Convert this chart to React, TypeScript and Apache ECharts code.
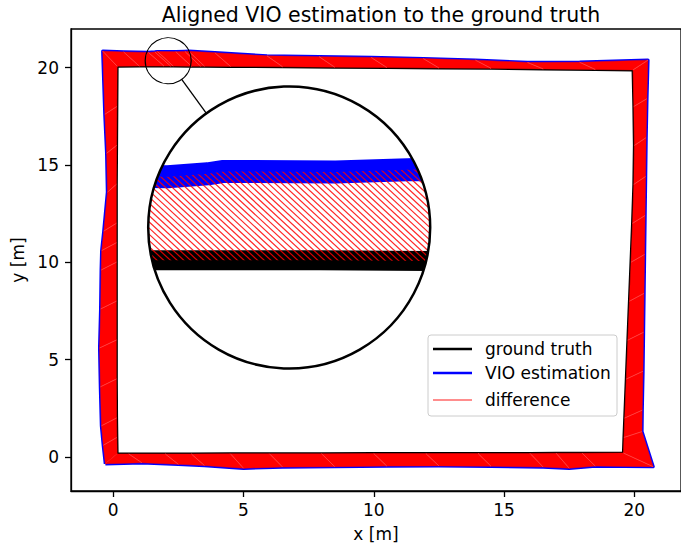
import React, { useEffect, useRef } from "react";
import * as echarts from "echarts";

// Ground-truth trajectory (m), clockwise from the start corner.
const groundTruth: [number, number][] = [
  [0.15, 0.15], [0.14, 1.0], [0.13, 2.0], [0.12, 4.0], [0.12, 6.0], [0.12, 8.0],
  [0.12, 10.0], [0.12, 11.0], [0.12, 12.0], [0.12, 14.0], [0.13, 16.0], [0.14, 18.0],
  [0.15, 20.07],
  [1.0, 20.075], [1.95, 20.075], [2.2, 20.075], [2.3, 20.075], [3.0, 20.07], [3.35, 20.07],
  [3.5, 20.07], [4.5, 20.06], [6.5, 20.04], [8.5, 20.02], [10.5, 20.0], [12.5, 19.98],
  [14.5, 19.96], [16.5, 19.93], [18.5, 19.9], [19.95, 19.88],
  [19.98, 18.0], [20.0, 16.0], [19.98, 14.0], [19.93, 12.0], [19.87, 10.0], [19.81, 8.0],
  [19.75, 6.0], [19.69, 4.0], [19.63, 2.0], [19.6, 1.0], [19.58, 0.2],
  [18.0, 0.19], [17.0, 0.19], [16.0, 0.18], [14.0, 0.18], [12.0, 0.17], [10.0, 0.17],
  [8.0, 0.16], [6.0, 0.16], [4.5, 0.16], [3.0, 0.15], [2.0, 0.15], [0.6, 0.15],
  [0.15, 0.15],
];

// Aligned VIO estimate (m), one sample per ground-truth sample.
const vioEstimate: [number, number][] = [
  [-0.3, -0.35], [-0.38, 0.6], [-0.45, 1.6], [-0.49, 3.6], [-0.52, 5.6], [-0.48, 7.6],
  [-0.46, 9.6], [-0.44, 10.6], [-0.36, 11.6], [-0.22, 13.6], [-0.25, 15.6], [-0.32, 17.6],
  [-0.4, 20.84],
  [0.4, 20.8], [1.35, 20.775], [1.6, 20.8], [1.7, 20.82], [2.4, 20.815], [2.75, 20.83],
  [2.9, 20.835], [3.9, 20.76], [5.9, 20.6], [7.9, 20.56], [9.9, 20.52], [11.9, 20.46],
  [13.9, 20.38], [15.9, 20.26], [17.9, 20.27], [20.52, 20.38],
  [20.48, 18.4], [20.45, 16.4], [20.43, 14.4], [20.41, 12.4], [20.39, 10.4], [20.37, 8.4],
  [20.35, 6.4], [20.33, 4.4], [20.3, 2.4], [20.29, 1.3], [20.72, -0.5],
  [18.5, -0.47], [17.5, -0.58], [16.5, -0.52], [14.5, -0.48], [12.5, -0.46], [10.5, -0.47],
  [8.5, -0.5], [6.5, -0.52], [5.0, -0.58], [3.5, -0.44], [2.5, -0.38], [1.1, -0.3],
  [-0.3, -0.35],
];

const xTicks = [0, 5, 10, 15, 20];
const yTicks = [0, 5, 10, 15, 20];
const lensFocus: [number, number] = [2.11, 20.35];
const legendLabels = ["ground truth", "VIO estimation", "difference"];
const titleText = "Aligned VIO estimation to the ground truth";

const FONT = "DejaVu Sans";
const GRID = { left: 71, top: 29, width: 620, height: 462 };

// magnifier geometry (pixels)
const LENS_SMALL_R = 23;
const LENS_BIG_CENTER: [number, number] = [289.2, 227.5];
const LENS_BIG_R = 141;
const HATCH_SPACING = 6.7;

export default function App() {
  const ref = useRef<HTMLDivElement>(null);

  useEffect(() => {
    const chart = echarts.init(ref.current!, null, { renderer: "svg" });

    const diffRows = groundTruth.slice(0, -1).map((g, i) => {
      const v = vioEstimate[i];
      const g2 = groundTruth[i + 1];
      const v2 = vioEstimate[i + 1];
      return [g[0], g[1], v[0], v[1], g2[0], g2[1], v2[0], v2[1]];
    });

    const axisText = { fontSize: 17, fontFamily: FONT, color: "#000" };

    const legendY = [349, 373, 400];
    const legendColors = ["#000000", "#0000ff", "rgba(255,0,0,0.6)"];
    const legendWidths = [2.5, 2.5, 1.3];

    const graphic: any[] = [
      {
        type: "text",
        z: 100,
        style: {
          text: titleText,
          x: GRID.left + GRID.width / 2,
          y: 14.5,
          align: "center",
          verticalAlign: "middle",
          fontSize: 20.5,
          fontFamily: FONT,
          fill: "#000",
        },
      },
      {
        type: "rect",
        z: 100,
        shape: { x: 428, y: 335, width: 189, height: 81, r: 3 },
        style: { fill: "rgba(255,255,255,0.8)", stroke: "#cccccc", lineWidth: 1 },
      },
    ];
    legendLabels.forEach((label, i) => {
      graphic.push({
        type: "line",
        z: 101,
        shape: { x1: 433, y1: legendY[i], x2: 472, y2: legendY[i] },
        style: { stroke: legendColors[i], lineWidth: legendWidths[i] },
      });
      graphic.push({
        type: "text",
        z: 101,
        style: {
          text: label,
          x: 485,
          y: legendY[i],
          verticalAlign: "middle",
          fontSize: 17,
          fontFamily: FONT,
          fill: "#000",
        },
      });
    });

    const option: any = {
      animation: false,
      grid: {
        ...GRID,
        show: true,
        borderColor: "#000",
        borderWidth: 1.3,
        backgroundColor: "transparent",
      },
      xAxis: {
        type: "value",
        min: -1.62,
        max: 21.79,
        axisLine: { show: true, onZero: false, lineStyle: { color: "#000", width: 1.3 } },
        axisTick: { show: true, length: 6, lineStyle: { color: "#000", width: 1.3 }, customValues: xTicks },
        axisLabel: { ...axisText, margin: 10, customValues: xTicks },
        splitLine: { show: false },
        name: "x [m]",
        nameLocation: "middle",
        nameGap: 34,
        nameTextStyle: axisText,
      },
      yAxis: {
        type: "value",
        min: -1.75,
        max: 21.98,
        axisLine: { show: true, onZero: false, lineStyle: { color: "#000", width: 1.3 } },
        axisTick: { show: true, length: 6, lineStyle: { color: "#000", width: 1.3 }, customValues: yTicks },
        axisLabel: { ...axisText, margin: 12, customValues: yTicks },
        splitLine: { show: false },
        name: "y [m]",
        nameLocation: "middle",
        nameRotate: 90,
        nameGap: 40,
        nameTextStyle: axisText,
      },
      graphic,
      series: [
        {
          name: legendLabels[0],
          type: "line",
          data: groundTruth,
          showSymbol: false,
          symbol: "none",
          lineStyle: { color: "#000", width: 3, join: "round" },
          z: 2,
        },
        {
          name: legendLabels[1],
          type: "line",
          data: vioEstimate,
          showSymbol: false,
          symbol: "none",
          lineStyle: { color: "#0000ff", width: 3.4, join: "round" },
          z: 3,
        },
        {
          name: legendLabels[2],
          type: "custom",
          z: 4,
          encode: { x: [0, 2, 4, 6], y: [1, 3, 5, 7] },
          data: diffRows,
          renderItem: (_params: any, api: any) => {
            const g0 = api.coord([api.value(0), api.value(1)]);
            const v0 = api.coord([api.value(2), api.value(3)]);
            const g1 = api.coord([api.value(4), api.value(5)]);
            const v1 = api.coord([api.value(6), api.value(7)]);
            return {
              type: "group",
              children: [
                {
                  type: "polygon",
                  shape: { points: [g0, g1, v1, v0] },
                  style: { fill: "#ff0000", stroke: "#ff0000", lineWidth: 0.5 },
                },
                {
                  type: "line",
                  shape: { x1: g0[0], y1: g0[1], x2: v0[0], y2: v0[1] },
                  style: { stroke: "#ff4a4a", lineWidth: 0.8 },
                },
              ],
            };
          },
        },
        {
          name: "lens",
          type: "custom",
          z: 20,
          data: [lensFocus],
          renderItem: (_params: any, api: any) => {
            const focus = api.coord([api.value(0), api.value(1)]);
            const M = LENS_BIG_R / LENS_SMALL_R;
            const [bx, by] = LENS_BIG_CENTER;
            const mag = (p: [number, number]) => {
              const c = api.coord(p);
              return [bx + (c[0] - focus[0]) * M, by + (c[1] - focus[1]) * M];
            };
            const gt = groundTruth.map(mag);
            const vio = vioEstimate.map(mag);

            // hatch direction follows the difference vector of the sample nearest the focus
            let best = 0;
            let bestD = Infinity;
            vio.forEach((p, i) => {
              const d = Math.hypot(p[0] - bx, p[1] - by);
              if (d < bestD) {
                bestD = d;
                best = i;
              }
            });
            let hx = gt[best][0] - vio[best][0];
            let hy = gt[best][1] - vio[best][1];
            const hl = Math.hypot(hx, hy) || 1;
            hx /= hl;
            hy /= hl;
            const hatch: any[] = [];
            for (let k = -70; k <= 70; k++) {
              const px = bx + k * HATCH_SPACING;
              hatch.push({
                type: "line",
                shape: { x1: px - hx * 400, y1: by - hy * 400, x2: px + hx * 400, y2: by + hy * 400 },
                style: { stroke: "rgba(255,0,0,0.85)", lineWidth: 1.2 },
              });
            }

            let ux = bx - focus[0];
            let uy = by - focus[1];
            const ul = Math.hypot(ux, uy) || 1;
            ux /= ul;
            uy /= ul;

            return {
              type: "group",
              children: [
                {
                  type: "circle",
                  shape: { cx: focus[0], cy: focus[1], r: LENS_SMALL_R },
                  style: { fill: "none", stroke: "#000", lineWidth: 1.2 },
                },
                {
                  type: "line",
                  shape: {
                    x1: focus[0] + ux * LENS_SMALL_R,
                    y1: focus[1] + uy * LENS_SMALL_R,
                    x2: bx - ux * LENS_BIG_R,
                    y2: by - uy * LENS_BIG_R,
                  },
                  style: { stroke: "#000", lineWidth: 1.3 },
                },
                {
                  type: "circle",
                  shape: { cx: bx, cy: by, r: LENS_BIG_R },
                  style: { fill: "#fff", stroke: "none" },
                },
                {
                  type: "group",
                  clipPath: { type: "circle", shape: { cx: bx, cy: by, r: LENS_BIG_R } },
                  children: [
                    {
                      type: "polyline",
                      shape: { points: gt },
                      style: { stroke: "#000", lineWidth: 20, fill: "none", lineJoin: "round" },
                    },
                    {
                      type: "polyline",
                      shape: { points: vio },
                      style: { stroke: "#0000ff", lineWidth: 23, fill: "none", lineJoin: "round" },
                    },
                    {
                      type: "group",
                      clipPath: {
                        type: "polygon",
                        shape: { points: [...vio, ...gt.slice().reverse()] },
                      },
                      children: hatch,
                    },
                  ],
                },
                {
                  type: "circle",
                  shape: { cx: bx, cy: by, r: LENS_BIG_R },
                  style: { fill: "none", stroke: "#000", lineWidth: 2.5 },
                },
              ],
            };
          },
        },
      ],
    };

    chart.setOption(option);
    return () => chart.dispose();
  }, []);

  return (
    <div
      ref={ref}
      style={{ position: "fixed", left: 0, top: 0, width: 681, height: 549, background: "#fff" }}
    />
  );
}
